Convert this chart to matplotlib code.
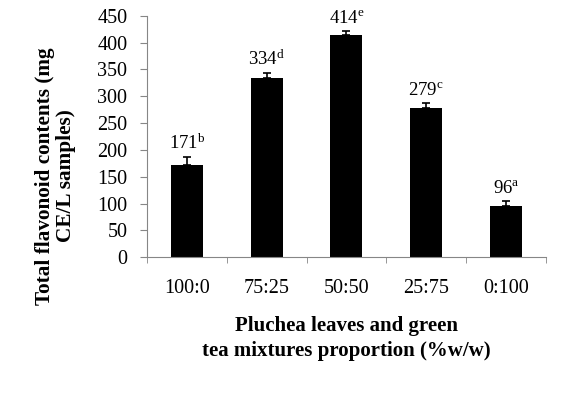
import matplotlib
matplotlib.use('Agg')
import matplotlib.pyplot as plt
import numpy as np

plt.rcParams['font.family'] = ['Liberation Serif', 'DejaVu Serif']
plt.rcParams['mathtext.fontset'] = 'custom'
plt.rcParams['mathtext.rm'] = 'Liberation Serif'
plt.rcParams['mathtext.it'] = 'Liberation Serif'

# data
proportions = ['100:0', '75:25', '50:50', '25:75', '0:100']
flavonoid = [171, 334, 414, 279, 96]
errors = [15, 9, 8, 8, 8]
letters = ['b', 'd', 'e', 'c', 'a']

fig = plt.figure(figsize=(5.76, 3.95), dpi=100)
ax = fig.add_axes([0.255, 0.349, 0.693, 0.611])

x = np.arange(len(proportions))
ax.bar(x, flavonoid, width=0.4, color='black', zorder=2)
ax.errorbar(x, flavonoid, yerr=[np.zeros(len(errors)), errors], fmt='none',
            ecolor='black', elinewidth=1.2, capsize=2.6, capthick=1.2, zorder=3)

for xi, v, e, l in zip(x, flavonoid, errors, letters):
    ax.annotate(r'$\mathregular{%d^{%s}}$' % (v, l), (xi, v + e), xytext=(0, 3),
                textcoords='offset points', ha='center', va='bottom', fontsize=13.5)

ax.set_xlim(-0.5, len(proportions) - 0.5)
ax.set_ylim(0, 450)
ax.set_yticks(np.arange(0, 451, 50))
ax.set_xticks(x)
ax.set_xticklabels(proportions)
ax.set_xticks(np.arange(-0.5, len(proportions), 1), minor=True)

ax.tick_params(axis='x', which='major', length=0, pad=16, labelsize=14.5)
ax.tick_params(axis='x', which='minor', length=4.5, direction='out', color='#868686')
ax.tick_params(axis='y', length=5, direction='out', color='#868686', pad=9, labelsize=14.5)

for s in ['top', 'right']:
    ax.spines[s].set_visible(False)
for s in ['left', 'bottom']:
    ax.spines[s].set_color('#868686')

ax.set_ylabel('Total flavonoid contents (mg\nCE/L samples)', fontsize=15.3,
              fontweight='bold', linespacing=1.05)
ax.yaxis.set_label_coords(-0.178, 0.336)
ax.set_xlabel('Pluchea leaves and green\ntea mixtures proportion (%w/w)', fontsize=15,
              fontweight='bold', labelpad=13, linespacing=1.3)

plt.savefig('out.png', dpi=100)
plt.close()
